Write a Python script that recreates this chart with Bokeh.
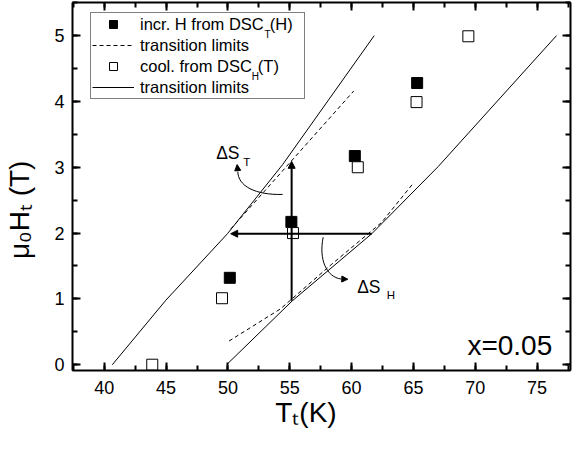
import math
from bokeh.plotting import figure
from bokeh.models import (Range1d, LinearAxis, SingleIntervalTicker, Legend, LegendItem,
                          Label, Arrow, NormalHead, CustomJSTickFormatter)
from bokeh.embed import file_html
from bokeh.resources import INLINE

# ---------------- data ----------------
incr_T = [50.15, 55.13, 60.26, 65.30]          # incr. H from DSC_T(H)
incr_H = [1.32, 2.17, 3.17, 4.28]
cool_T = [43.88, 49.52, 55.26, 60.50, 65.25, 69.44]   # cool. from DSC_H(T)
cool_H = [0.00, 1.01, 2.00, 3.00, 3.99, 4.99]

dash_left_T = [50.22, 60.18]                    # transition limits (dashed)
dash_left_H = [2.06, 4.16]
dash_right_T = [50.09, 54.26, 58.35, 62.42, 65.04]
dash_right_H = [0.36, 0.85, 1.52, 2.16, 2.77]

solid_left_T = [40.65, 44.98, 49.96, 54.42, 61.83]   # transition limits (solid)
solid_left_H = [0.00, 0.98, 1.99, 3.04, 5.00]
solid_right_T = [50.00, 55.20, 61.63, 67.00, 76.57]
solid_right_H = [0.02, 0.97, 1.99, 3.01, 5.00]

# straight arrows: (x_start, y_start, x_end, y_end)
arrow_vertical = [55.15, 0.97, 55.15, 3.09]
arrow_horizontal = [61.63, 1.99, 50.22, 1.99]

# curved arrows: bezier start, control 1, control 2, end, arrow tip
curve_dST = dict(x0=54.42, y0=2.587, cx0=52.21, cy0=2.576, cx1=50.80, cy1=2.715,
                 x1=50.80, y1=2.935, tx=50.74, ty=3.04)
curve_dSH = dict(x0=57.70, y0=1.937, cx0=57.33, cy0=1.600, cx1=57.96, cy1=1.335,
                 x1=59.14, y1=1.302, tx=59.69, ty=1.299)

x_ticks_interval = 5
y_ticks_interval = 1

x_title = "T\u209c(K)"
y_title = "\u03bc\u2080H\u209c (T)"

FONT = "Liberation Sans"

# helpers to place annotations given positions measured on the reference picture
def ref_T(px):
    return 40 + (px - 106.7) / 12.714

def ref_H(py):
    return (377.0 - py) / 68.14

p = figure(width=572, height=438, output_backend="svg", toolbar_location=None,
           x_range=Range1d(37.43, 77.70), y_range=Range1d(-0.088, 5.503),
           min_border_left=72, min_border_right=2, min_border_top=2, min_border_bottom=68)
p.xgrid.visible = False
p.ygrid.visible = False
p.outline_line_color = "black"
p.outline_line_width = 1
p.background_fill_color = "white"
p.border_fill_color = "white"

def style_axis(ax, ticker, labels=True):
    ax.ticker = ticker
    ax.axis_line_width = 2
    ax.axis_line_color = "black"
    ax.major_tick_in = 8
    ax.major_tick_out = 0
    ax.minor_tick_in = 5
    ax.minor_tick_out = 0
    ax.major_tick_line_width = 2
    ax.minor_tick_line_width = 2
    ax.major_tick_line_color = "black"
    ax.minor_tick_line_color = "black"
    ax.major_label_text_font = FONT
    ax.major_label_text_color = "black"
    if labels:
        ax.major_label_text_font_size = "18px"
    else:
        ax.formatter = CustomJSTickFormatter(code="return ''")
        ax.major_label_text_font_size = "1px"
        ax.major_label_standoff = 0

xt = SingleIntervalTicker(interval=x_ticks_interval, num_minor_ticks=2)
yt = SingleIntervalTicker(interval=y_ticks_interval, num_minor_ticks=2)
style_axis(p.xaxis[0], xt)
style_axis(p.yaxis[0], yt)
p.xaxis[0].major_label_standoff = 10
p.yaxis[0].major_label_standoff = 8

nb = "\u00a0"
for ax, title, pad, standoff in ((p.xaxis[0], x_title, nb * 4, 0),
                                 (p.yaxis[0], y_title, nb * 6, 16)):
    ax.axis_label = title + pad
    ax.axis_label_text_font = FONT
    ax.axis_label_text_font_size = "28px"
    ax.axis_label_text_font_style = "normal"
    ax.axis_label_text_color = "black"
    ax.axis_label_standoff = standoff

top = LinearAxis()
style_axis(top, SingleIntervalTicker(interval=x_ticks_interval, num_minor_ticks=2), labels=False)
right = LinearAxis()
style_axis(right, SingleIntervalTicker(interval=y_ticks_interval, num_minor_ticks=2), labels=False)
p.add_layout(top, "above")
p.add_layout(right, "right")

# ---------------- glyphs ----------------
r_dash = p.multi_line([dash_left_T, dash_right_T], [dash_left_H, dash_right_H],
                      line_color="black", line_width=1, line_dash="4 3")
r_solid = p.multi_line([solid_left_T, solid_right_T], [solid_left_H, solid_right_H],
                       line_color="black", line_width=1)
r_incr = p.scatter(incr_T, incr_H, marker="square", size=11,
                   fill_color="black", line_color="black")
r_cool = p.scatter(cool_T, cool_H, marker="square", size=11,
                   fill_color="white", line_color="black", line_width=1)

for c in (curve_dST, curve_dSH):
    p.bezier(x0=[c["x0"]], y0=[c["y0"]], x1=[c["x1"]], y1=[c["y1"]],
             cx0=[c["cx0"]], cy0=[c["cy0"]], cx1=[c["cx1"]], cy1=[c["cy1"]],
             line_color="black", line_width=1)
    p.add_layout(Arrow(x_start=c["x1"], y_start=c["y1"], x_end=c["tx"], y_end=c["ty"],
                       line_alpha=0,
                       end=NormalHead(size=6, fill_color="black", line_color="black")))

for a in (arrow_vertical, arrow_horizontal):
    p.add_layout(Arrow(x_start=a[0], y_start=a[1], x_end=a[2], y_end=a[3],
                       line_color="black", line_width=2,
                       end=NormalHead(size=7, fill_color="black", line_color="black",
                                      line_width=1)))

# ---------------- legend ----------------
gap = "\u00a0\u200a"
legend = Legend(items=[
    LegendItem(label="incr. H from DSC" + gap + "(H)", renderers=[r_incr]),
    LegendItem(label="transition limits", renderers=[r_dash]),
    LegendItem(label="cool. from DSC" + gap + "(T)", renderers=[r_cool]),
    LegendItem(label="transition limits", renderers=[r_solid]),
], location=(18, 271))
legend.label_text_font = FONT
legend.label_text_font_size = "16.5px"
legend.label_text_color = "black"
legend.glyph_width = 42
legend.glyph_height = 20
legend.label_height = 20
legend.label_width = 163
legend.label_standoff = 6
legend.spacing = 1
legend.padding = 1
legend.margin = 0
legend.border_line_color = "black"
legend.border_line_width = 1
legend.background_fill_alpha = 0
p.add_layout(legend)

# ---------------- text annotations ----------------
def add_label(text, px, py, size, angle=0.0):
    p.add_layout(Label(x=ref_T(px), y=ref_H(py), text=text, text_font=FONT,
                       text_font_size=size, text_color="black",
                       text_baseline="alphabetic", text_align="left", angle=angle))

# legend subscripts (the legend box is transparent so they show through)
add_label("T", 271.4, 35.2, "10px")
add_label("H", 258.3, 78.6, "10px")

# Delta S labels
add_label("\u0394S", 221.7, 158.3, "17.5px")
add_label("T", 249.5, 167.5, "11.5px")
add_label("\u0394S", 366.7, 296.7, "17.5px")
add_label("H", 397.0, 305.3, "11.5px")

# composition label
add_label("x=0.05", 480.0, 356.7, "28px")

open("out.html", "w").write(file_html(p, INLINE))
